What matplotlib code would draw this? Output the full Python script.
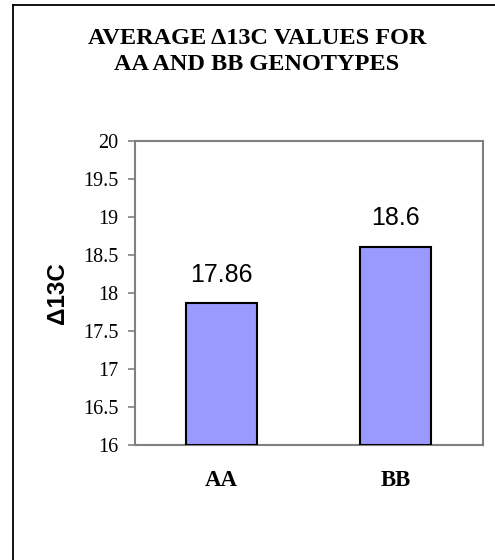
import matplotlib
matplotlib.use("Agg")
import matplotlib.pyplot as plt
from matplotlib.lines import Line2D

# Data
genotypes = ["AA", "BB"]
delta13c = [17.86, 18.6]
value_labels = ["17.86", "18.6"]
y_ticks = [16, 16.5, 17, 17.5, 18, 18.5, 19, 19.5, 20]
y_tick_labels = ["16", "16.5", "17", "17.5", "18", "18.5", "19", "19.5", "20"]

W, H, DPI = 495, 560, 100
fig = plt.figure(figsize=(W / DPI, H / DPI), dpi=DPI)
fig.patch.set_facecolor("white")

serif = "Liberation Serif"
sans = "Liberation Sans"

# Chart-area frame (left and top edges)
fig.add_artist(Line2D([12.5 / W, 12.5 / W], [0, 1 - 4.5 / H],
                      transform=fig.transFigure, color="black", lw=1.3))
fig.add_artist(Line2D([12.5 / W, 1], [1 - 4.5 / H, 1 - 4.5 / H],
                      transform=fig.transFigure, color="black", lw=1.3))

# Title
fig.text(257 / W, 1 - 43.5 / H, "AVERAGE \u039413C VALUES FOR", ha="center", va="baseline",
         fontsize=17.5, fontweight="bold", family=serif)
fig.text(257 / W, 1 - 70 / H, "AA AND BB GENOTYPES", ha="center", va="baseline",
         fontsize=17.5, fontweight="bold", family=serif)

left, right, top, bottom = 134.7, 482.7, 140.5, 445
ax = fig.add_axes([left / W, 1 - bottom / H, (right - left) / W, (bottom - top) / H])

x = list(range(len(genotypes)))
bars = ax.bar(x, [v - 16 for v in delta13c], bottom=16, width=0.41,
              color="#9999FF", edgecolor="black", linewidth=1.5, zorder=3)

ax.set_xlim(-0.5, 1.5)
ax.set_ylim(16, 20)
ax.set_yticks(y_ticks)
ax.set_yticklabels(y_tick_labels, family=serif, fontsize=14.5)
ax.set_xticks(x)
ax.set_xticklabels(genotypes, family=serif, fontsize=16.5, fontweight="bold")
ax.tick_params(axis="x", length=0, pad=18)
ax.tick_params(axis="y", length=4.8, width=1.2, color="#808080", pad=7, direction="out")

for s in ax.spines.values():
    s.set_color("#808080")
    s.set_linewidth(1.5)

for xi, v, lab in zip(x, delta13c, value_labels):
    ax.annotate(lab, (xi, v), xytext=(0, 12), textcoords="offset points",
                ha="center", va="bottom", fontsize=18, family=sans)

ax.set_ylabel("\u039413C", family=sans, fontsize=17.5, fontweight="bold")
ax.yaxis.set_label_coords(-0.19, 0.5)

fig.savefig("out.png", dpi=DPI, facecolor="white")
